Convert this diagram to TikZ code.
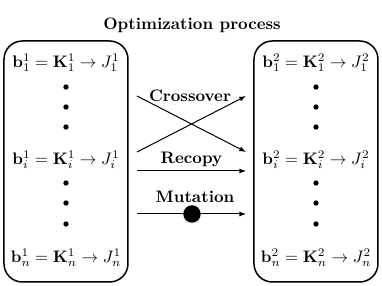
\documentclass[tikz,border=0pt]{standalone}
\usepackage{amsmath}
\usepackage{amssymb}
\usepackage{tikz}
\usetikzlibrary{arrows.meta,positioning,calc}

\tikzset{
    popbox/.style={draw, line width=0.9pt, rounded corners=11pt},
    indiv/.style={inner sep=1pt, anchor=center},
    dotnode/.style={circle, fill=black, inner sep=0pt, minimum size=3.2pt},
    oparrow/.style={-{Latex[length=4pt,width=3pt]}, semithick},
    oplabel/.style={font=\bfseries, inner sep=1pt}
}

\begin{document}
\begin{tikzpicture}[x=0.6pt, y=-0.6pt]
\useasboundingbox (0,0) rectangle (382,286);

% title
\node[oplabel] (title) at (192,25) {Optimization process};

% populations
\draw[popbox] (4,41) rectangle (128,282);
\draw[popbox] (254,41) rectangle (378,282);

\foreach \g/\x in {1/66, 2/316} {
    \node[indiv] (b\g-1) at (\x,63)  {$\mathbf{b}_1^{\g} = \mathbf{K}_1^{\g} \rightarrow J_1^{\g}$};
    \node[indiv] (b\g-i) at (\x,160) {$\mathbf{b}_i^{\g} = \mathbf{K}_i^{\g} \rightarrow J_i^{\g}$};
    \node[indiv] (b\g-n) at (\x,258) {$\mathbf{b}_n^{\g} = \mathbf{K}_n^{\g} \rightarrow J_n^{\g}$};
    \foreach \k/\y in {1/87, 2/107, 3/127, 4/183, 5/203, 6/224}
        \node[dotnode] (d\g-\k) at (\x,\y) {};
}

% operators
\coordinate (cA) at (137,96);
\coordinate (cB) at (137,152);
\coordinate (cC) at (246,96);
\coordinate (cD) at (246,152);
\draw[oparrow] (cA) -- (cD);
\draw[oparrow] (cB) -- (cC);
\node[oplabel] (cross) at (190,96) {Crossover};

\coordinate (rA) at (137,171);
\coordinate (rB) at (246,171);
\draw[oparrow] (rA) -- (rB);
\node[oplabel, above=1pt of $(rA)!0.5!(rB)$] (recopy) {Recopy};

\coordinate (mA) at (137,214);
\coordinate (mB) at (246,214);
\node[circle, fill=black, inner sep=0pt, minimum size=10.5pt] (mut) at (192,214) {};
\draw[oparrow] (mA) -- (mB);
\node[oplabel] (mutlabel) at (195,197) {Mutation};
\end{tikzpicture}
\end{document}
